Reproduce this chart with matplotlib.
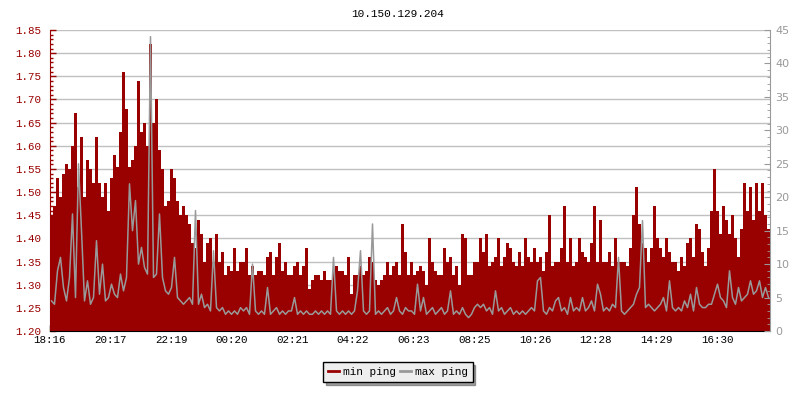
import numpy as np
import matplotlib
matplotlib.use("Agg")
import matplotlib.pyplot as plt
from matplotlib.ticker import MultipleLocator

# one sample every 6 minutes, starting 18:16
start_label = "18:16"
step_min = 6

min_ping = [
    1.45, 1.47, 1.53, 1.49, 1.54, 1.56, 1.55, 1.60, 1.67, 1.51,
    1.62, 1.49, 1.57, 1.55, 1.52, 1.62, 1.52, 1.49, 1.52, 1.46,
    1.53, 1.58, 1.555, 1.63, 1.76, 1.68, 1.555, 1.57, 1.60, 1.74,
    1.63, 1.65, 1.60, 1.82, 1.65, 1.70, 1.59, 1.55, 1.47, 1.48,
    1.55, 1.53, 1.48, 1.45, 1.47, 1.45, 1.43, 1.39, 1.38, 1.44,
    1.41, 1.35, 1.39, 1.40, 1.35, 1.41, 1.35, 1.37, 1.32, 1.34,
    1.33, 1.38, 1.33, 1.35, 1.35, 1.38, 1.32, 1.34, 1.32, 1.33,
    1.33, 1.32, 1.36, 1.37, 1.32, 1.36, 1.39, 1.33, 1.35, 1.32,
    1.32, 1.34, 1.35, 1.32, 1.34, 1.38, 1.29, 1.31, 1.32, 1.32,
    1.31, 1.33, 1.31, 1.31, 1.33, 1.34, 1.33, 1.33, 1.32, 1.36,
    1.28, 1.32, 1.32, 1.34, 1.32, 1.33, 1.36, 1.35, 1.31, 1.30,
    1.31, 1.32, 1.35, 1.32, 1.34, 1.35, 1.32, 1.43, 1.37, 1.32,
    1.35, 1.32, 1.33, 1.34, 1.33, 1.30, 1.40, 1.35, 1.33, 1.32,
    1.32, 1.38, 1.35, 1.36, 1.32, 1.34, 1.30, 1.41, 1.40, 1.32,
    1.32, 1.35, 1.35, 1.40, 1.37, 1.41, 1.34, 1.35, 1.36, 1.40,
    1.34, 1.36, 1.39, 1.38, 1.35, 1.34, 1.37, 1.34, 1.40, 1.36,
    1.35, 1.38, 1.35, 1.36, 1.33, 1.37, 1.45, 1.34, 1.35, 1.35,
    1.38, 1.47, 1.35, 1.40, 1.34, 1.35, 1.40, 1.37, 1.36, 1.35,
    1.39, 1.47, 1.35, 1.44, 1.35, 1.35, 1.37, 1.34, 1.40, 1.35,
    1.35, 1.35, 1.34, 1.38, 1.45, 1.51, 1.43, 1.39, 1.38, 1.35,
    1.38, 1.47, 1.40, 1.38, 1.36, 1.40, 1.37, 1.35, 1.35, 1.33,
    1.36, 1.34, 1.39, 1.40, 1.36, 1.43, 1.42, 1.37, 1.34, 1.38,
    1.46, 1.55, 1.46, 1.41, 1.47, 1.44, 1.41, 1.45, 1.40, 1.36,
    1.42, 1.52, 1.46, 1.51, 1.44, 1.52, 1.46, 1.52, 1.45, 1.42,
]

max_ping = [
    4.5, 4.0, 9.0, 11.0, 6.5, 4.5, 8.0, 17.5, 5.0, 25.0,
    15.0, 4.5, 7.5, 4.0, 5.0, 13.5, 5.5, 10.0, 4.5, 5.0,
    7.0, 5.5, 5.0, 8.5, 6.0, 8.0, 22.0, 15.0, 19.5, 10.0,
    12.5, 9.5, 8.5, 44.0, 8.0, 8.5, 17.5, 8.0, 6.0, 5.5,
    6.5, 11.0, 5.0, 4.5, 4.0, 4.5, 5.0, 4.0, 18.0, 4.0,
    5.5, 3.5, 4.0, 3.0, 12.0, 3.5, 3.0, 3.5, 2.5, 3.0,
    2.5, 3.0, 2.5, 3.5, 3.0, 3.5, 2.5, 10.0, 3.0, 2.5,
    3.0, 2.5, 6.5, 2.5, 3.0, 3.5, 2.5, 3.0, 2.5, 3.0,
    3.0, 5.0, 2.5, 3.0, 2.5, 3.0, 2.5, 2.5, 3.0, 2.5,
    3.0, 2.5, 3.0, 2.5, 11.0, 3.0, 2.5, 3.0, 2.5, 3.0,
    2.5, 3.0, 6.0, 12.0, 3.0, 2.5, 3.0, 16.0, 2.5, 3.0,
    2.5, 3.0, 3.5, 2.5, 3.0, 5.0, 3.0, 2.5, 3.5, 3.0,
    3.0, 2.5, 7.0, 3.0, 5.0, 2.5, 3.0, 3.5, 2.5, 3.0,
    3.5, 2.5, 3.0, 6.0, 2.5, 3.0, 2.5, 3.5, 2.5, 2.0,
    2.5, 3.5, 4.0, 3.5, 4.0, 3.0, 3.5, 2.5, 6.0, 3.0,
    3.5, 2.5, 3.0, 3.5, 2.5, 3.0, 2.5, 3.0, 2.5, 3.0,
    3.5, 3.0, 7.5, 8.0, 3.0, 2.5, 3.5, 3.0, 4.5, 5.0,
    3.0, 3.5, 2.5, 5.0, 3.0, 3.5, 3.0, 5.0, 3.0, 3.5,
    4.5, 3.0, 7.0, 5.5, 3.0, 3.5, 3.0, 4.0, 3.5, 11.0,
    3.0, 2.5, 3.0, 3.5, 4.0, 5.5, 6.5, 16.5, 3.5, 4.0,
    3.5, 3.0, 3.5, 4.0, 5.0, 3.0, 7.5, 3.5, 3.0, 3.5,
    3.0, 4.5, 3.5, 5.5, 3.0, 6.5, 4.0, 3.5, 3.5, 4.0,
    4.0, 5.5, 7.0, 5.0, 4.5, 3.5, 9.0, 5.0, 4.0, 6.5,
    4.5, 5.0, 5.5, 7.5, 5.5, 6.0, 7.5, 5.0, 6.5, 5.0,
]

tick_labels = ["18:16", "20:17", "22:19", "00:20", "02:21", "04:22",
               "06:23", "08:25", "10:26", "12:28", "14:29", "16:30"]

title = "10.150.129.204"

RED = "#990000"
GRAY = "#999999"
MONO = "Liberation Mono"


def to_min(s):
    h, m = s.split(":")
    return int(h) * 60 + int(m)


t0 = to_min(start_label)
tick_pos = [(to_min(s) - t0) % 1440 for s in tick_labels]

n = len(min_ping)
x = np.arange(n + 1) * step_min
ymin = np.append(min_ping, min_ping[-1])
xc = np.arange(n) * step_min + step_min / 2   # sample centres for the line

fig = plt.figure(figsize=(8, 4), dpi=100)
ax = fig.add_axes([0.0625, 0.1725, 0.9, 0.7525])
ax2 = ax.twinx()

# min ping: filled area on the left axis
ax.fill_between(x, 1.20, ymin, step="post", color=RED, lw=0, antialiased=False)
ax.set_ylim(1.20, 1.85)
ax.set_xlim(0, n * step_min)
ax.set_axisbelow(True)
ax.grid(axis="y", color="#c0c0c0", lw=1)
ax.yaxis.set_major_locator(MultipleLocator(0.05))
ax.yaxis.set_minor_locator(MultipleLocator(0.01))
ax.yaxis.set_major_formatter(plt.FuncFormatter(lambda v, p: "%.2f" % v))
ax.tick_params(axis="y", which="both", direction="in", colors=RED, labelsize=7.8, pad=6)
ax.tick_params(axis="y", which="major", length=4.5, width=1)
ax.tick_params(axis="y", which="minor", length=2.3, width=1)
ax.set_xticks(tick_pos)
ax.set_xticklabels(tick_labels)
ax.tick_params(axis="x", direction="in", length=4, width=1, colors="black", labelsize=7.8, pad=3)
for lab in ax.get_xticklabels() + ax.get_yticklabels():
    lab.set_family(MONO)
ax.spines["left"].set_color(RED)
ax.spines["top"].set_visible(False)
ax.spines["right"].set_visible(False)
ax.spines["bottom"].set_color("black")

# max ping: grey line on the right axis
ax2.plot(xc, max_ping, color=GRAY, lw=1.1)
ax2.set_xlim(0, n * step_min)
ax2.set_ylim(0, 45)
ax2.yaxis.set_major_locator(MultipleLocator(5))
ax2.yaxis.set_minor_locator(MultipleLocator(1))
ax2.tick_params(axis="y", which="both", direction="in", colors=GRAY, labelsize=8, pad=4)
ax2.tick_params(axis="y", which="major", length=4.5)
ax2.tick_params(axis="y", which="minor", length=2.3)
ax2.spines["right"].set_color(GRAY)
ax2.spines["top"].set_visible(False)
ax2.spines["left"].set_visible(False)
ax2.spines["bottom"].set_visible(False)

fig.text(0.4975, 0.965, title, ha="center", va="center", family=MONO, fontsize=8)

h1 = plt.Line2D([], [], color=RED, lw=2)
h2 = plt.Line2D([], [], color=GRAY, lw=2)
leg = fig.legend([h1, h2], ["min ping", "max ping"], loc="lower center",
                 bbox_to_anchor=(0.4975, 0.045), ncol=2, frameon=True,
                 fancybox=False, shadow=True, edgecolor="black",
                 facecolor="#eeeeee", framealpha=1,
                 prop={"family": MONO, "size": 8},
                 handlelength=1.0, handletextpad=0.3, columnspacing=0.4,
                 borderpad=0.45, borderaxespad=0)
leg.get_frame().set_linewidth(1)

fig.savefig("out.png", dpi=100)
